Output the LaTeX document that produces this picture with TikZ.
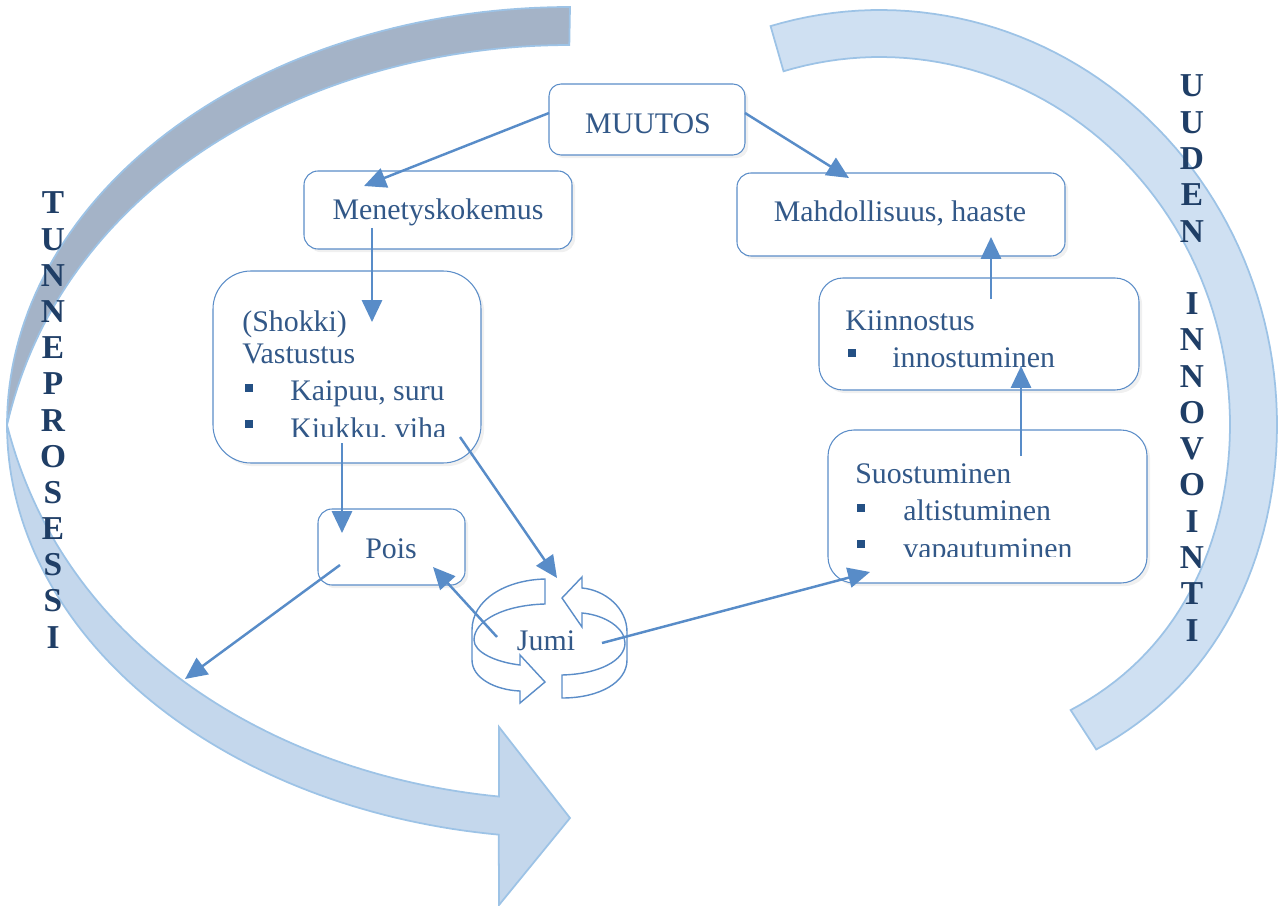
\documentclass[tikz,border=0pt]{standalone}
\usepackage{fontspec}
\setmainfont{Liberation Serif}
\usetikzlibrary{arrows.meta,fit,shadows}
\definecolor{boxcol}{RGB}{91,141,200}
\definecolor{linecol}{RGB}{88,140,200}
\definecolor{txtcol}{RGB}{50,88,136}
\definecolor{bulcol}{RGB}{36,80,132}
\definecolor{letcol}{RGB}{31,62,102}
\definecolor{backfill}{RGB}{164,179,199}
\definecolor{frontfill}{RGB}{196,215,236}
\definecolor{rightfill}{RGB}{207,224,242}
\definecolor{bandline}{RGB}{157,195,230}
\begin{document}
\begin{tikzpicture}[x=0.02cm,y=-0.02cm,
  box/.style={draw=boxcol, line width=0.6pt, fill=white, inner sep=0pt,
    drop shadow={shadow xshift=1.8pt, shadow yshift=-1.8pt, opacity=0.12}},
  conn/.style={draw=linecol, line width=1.4pt, -{Triangle[length=12.5pt,width=11.5pt]}},
  txt/.style={font=\fontsize{17}{20}\selectfont, text=txtcol, inner sep=0pt},
  bul/.style={fill=bulcol, minimum size=4.6pt, inner sep=0pt},
  vlet/.style={font=\bfseries\fontsize{19}{20}\selectfont, text=letcol, inner sep=0pt, anchor=base},
  band/.style={draw=bandline, line width=1pt},
  icon/.style={draw=boxcol, line width=0.8pt, fill=white},
]
\useasboundingbox (0,0) rectangle (1283,905);

% ---- left big curved arrow: back part (tapers to nothing at the left) ----
\path[band, fill=backfill]
  plot[domain=0:1, samples=70] ({570+563*cos(-90-90*\x)}, {425+418*sin(-90-90*\x)})
  -- plot[domain=1:0, samples=70]
     ({570+(563-38*(1-\x*\x*\x*\x))*cos(-90-90*\x)}, {425+(418-38*(1-\x*\x*\x*\x))*sin(-90-90*\x)})
  -- cycle;
% ---- left big curved arrow: front part with head ----
\path[band, fill=frontfill]
  plot[domain=0:1, samples=70] ({570+563*cos(180-82.8*\x)}, {425+413*sin(180-82.8*\x)})
  -- (499,905) -- (570,818) -- (499,727)
  -- plot[domain=1:0, samples=70]
     ({570+(563-38*(1-(1-\x)*(1-\x)*(1-\x)*(1-\x)))*cos(180-82.23*\x)},
      {425+(413-38*(1-(1-\x)*(1-\x)*(1-\x)*(1-\x)))*sin(180-82.23*\x)})
  -- cycle;
% ---- right big curved band ----
\path[band, fill=rightfill]
  plot[domain=-106:57, samples=90]
     ({880+397*cos(\x)}, {425+(415-40*max(0,sin(\x))*max(0,sin(\x)))*sin(\x)})
  -- plot[domain=57:-106, samples=90]
     ({880+350*cos(\x)}, {425+(368-40*max(0,sin(\x))*max(0,sin(\x)))*sin(\x)})
  -- cycle;

% ---- vertical letters ----
\foreach \ch [count=\i from 0] in {T,U,N,N,E,P,R,O,S,E,S,S,I}
  \node[vlet] (tl\i) at (53,{214+\i*36.17}) {\ch};
\foreach \ch/\k in {U/0,U/1,D/2,E/3,N/4,I/6,N/7,N/8,O/9,V/10,O/11,I/12,N/13,T/14,I/15}
  \node[vlet] (ul\k) at (1192,{97+\k*36.27}) {\ch};

% ---- boxes ----
\node[box, rounded corners=0.24cm, fit={(549,84)(745,155)}] (muutos) {};
\node[box, rounded corners=0.28cm, fit={(304,171)(572,249)}] (menet) {};
\node[box, rounded corners=0.28cm, fit={(737,173)(1065,256)}] (mahd) {};
\node[box, rounded corners=0.76cm, fit={(213,271)(481,463)}] (shokki) {};
\node[box, rounded corners=0.28cm, fit={(318,509)(465,585)}] (pois) {};
\node[box, rounded corners=0.48cm, fit={(819,278)(1139,390)}] (kiinn) {};
\node[box, rounded corners=0.52cm, fit={(828,430)(1147,583)}] (suost) {};

% ---- Jumi cycle icon ----
\path[icon] (545,579) .. controls (505,580) and (472,600) .. (472,630) -- (472,660)
  .. controls (472,678) and (495,690) .. (520,691) -- (520,703) -- (545,682) -- (520,655) -- (520,665)
  .. controls (495,662) and (474,652) .. (474,640) .. controls (474,620) and (505,605) .. (545,604) -- cycle;
\path[icon] (562,698) .. controls (600,698) and (627,682) .. (627,660) -- (627,632)
  .. controls (627,608) and (605,590) .. (582,588) -- (582,577) -- (562,598) -- (582,627) -- (582,613)
  .. controls (605,615) and (625,628) .. (625,643) .. controls (625,660) and (600,674) .. (562,675) -- cycle;

% ---- texts ----
\node[txt, anchor=base] (tmuutos) at (648,134) {MUUTOS};
\node[txt, anchor=base] (tmenet) at (438,220) {Menetyskokemus};
\node[txt, anchor=base] (tmahd) at (900,222) {Mahdollisuus, haaste};
\node[txt, anchor=base west] (tshok) at (242,331) {(Shokki)};
\node[txt, anchor=base west] (tvast) at (242,363) {Vastustus};
\node[bul] (b1) at (249,388) {};
\node[txt, anchor=base west] (tkaip) at (290,400) {Kaipuu, suru};
\node[bul] (b2) at (249,424) {};
\begin{scope}
  \clip (280,395) rectangle (470,436);
  \node[txt, anchor=base west] (tkiuk) at (290,438) {Kiukku, viha};
\end{scope}
\node[txt, anchor=base] (tpois) at (391,558) {Pois};
\node[txt, anchor=base west] (tkiin) at (845,330) {Kiinnostus};
\node[bul] (b3) at (852,353) {};
\node[txt, anchor=base west] (tinno) at (892,367) {innostuminen};
\node[txt, anchor=base west] (tsuos) at (855,483) {Suostuminen};
\node[bul] (b4) at (861,508) {};
\node[txt, anchor=base west] (talti) at (903,520) {altistuminen};
\node[bul] (b5) at (861,544) {};
\begin{scope}
  \clip (895,525) rectangle (1140,556);
  \node[txt, anchor=base west] (tvapa) at (903,558) {vapautuminen};
\end{scope}
\node[txt, anchor=base] (jumi) at (546,650) {Jumi};

% ---- connector end points ----
\coordinate (c1s) at (549,113); \coordinate (c1e) at (364,186);
\coordinate (c2s) at (745,113); \coordinate (c2e) at (849,178);
\coordinate (c3s) at (372,228); \coordinate (c3e) at (372,322);
\coordinate (c4s) at (991,299); \coordinate (c4e) at (991,237);
\coordinate (c5s) at (1021,456); \coordinate (c5e) at (1021,366);
\coordinate (c6s) at (342,443); \coordinate (c6e) at (342,533);
\coordinate (c7s) at (460,437); \coordinate (c7e) at (557,578);
\coordinate (c8s) at (340,565); \coordinate (c8e) at (185,679);
\coordinate (c9s) at (497,637); \coordinate (c9e) at (433,567);
\coordinate (c10s) at (602,643); \coordinate (c10e) at (870,572);

\draw[conn] (c1s) -- (c1e);
\draw[conn] (c2s) -- (c2e);
\draw[conn] (c3s) -- (c3e);
\draw[conn] (c4s) -- (c4e);
\draw[conn] (c5s) -- (c5e);
\draw[conn] (c6s) -- (c6e);
\draw[conn] (c7s) -- (c7e);
\draw[conn] (c8s) -- (c8e);
\draw[conn] (c9s) -- (c9e);
\draw[conn] (c10s) -- (c10e);
\end{tikzpicture}
\end{document}
